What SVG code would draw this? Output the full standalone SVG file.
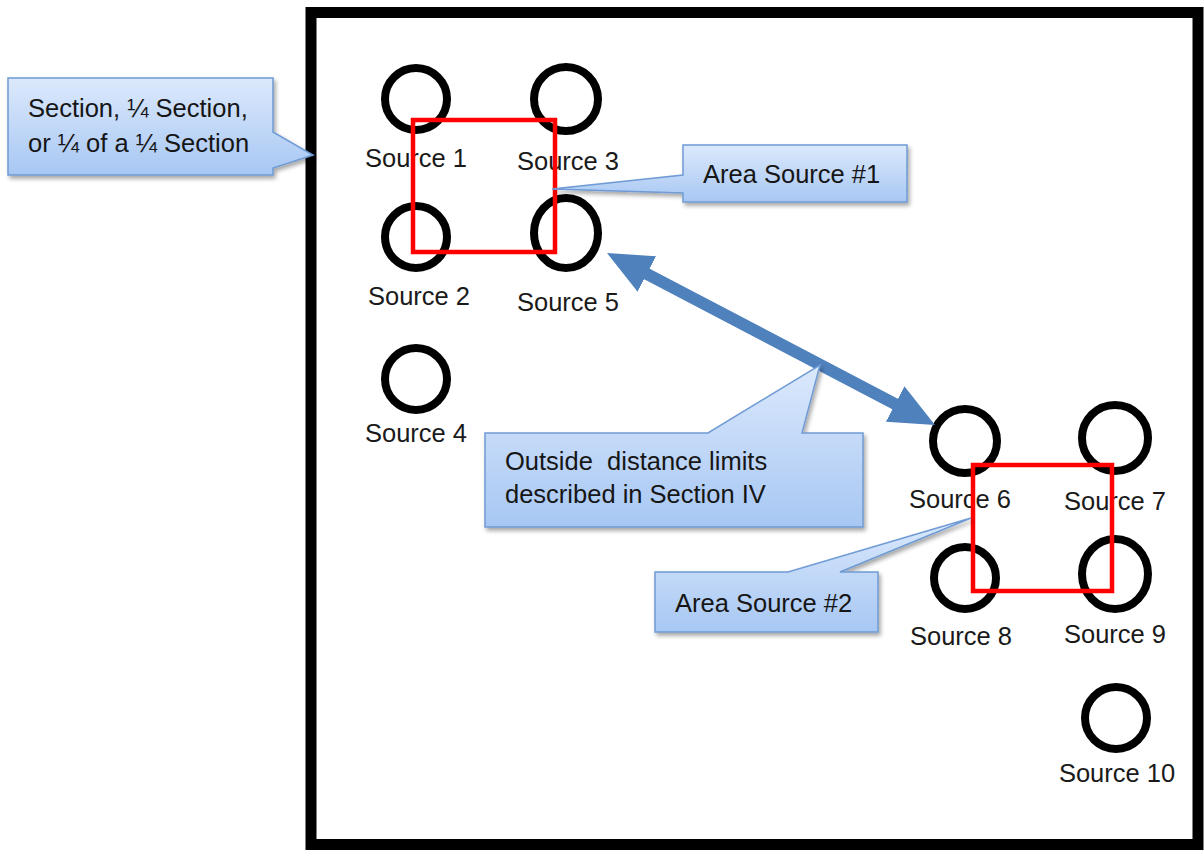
<svg xmlns="http://www.w3.org/2000/svg" width="1204" height="850" viewBox="0 0 1204 850">
<style>
.lbl{font-family:"Liberation Sans",Arial,sans-serif;font-size:25.5px;fill:#1a1a1a;text-anchor:middle}
.ctx{font-family:"Liberation Sans",Arial,sans-serif;font-size:25.5px;fill:#161616;white-space:pre}
.src{fill:none;stroke:#000;stroke-width:8}
.area{fill:none;stroke:#ff0000;stroke-width:4.5}
.call{fill:url(#cg);stroke:#6f9bd4;stroke-width:1.5;filter:url(#sh)}
</style>
<defs>
<linearGradient id="cg" x1="0" y1="0" x2="0" y2="1">
<stop offset="0" stop-color="#dce9fc"/>
<stop offset="1" stop-color="#a7c7f3"/>
</linearGradient>
<filter id="sh" x="-10%" y="-10%" width="130%" height="140%">
<feDropShadow dx="2" dy="3" stdDeviation="2" flood-color="#000" flood-opacity="0.35"/>
</filter>
<marker id="ah" markerUnits="userSpaceOnUse" viewBox="0 0 45 40" refX="15" refY="20" markerWidth="45" markerHeight="40" orient="auto-start-reverse">
<path d="M0,0 L45,20 L0,40 z" fill="#4f81bd"/>
</marker>
</defs>
<rect x="0" y="0" width="1204" height="850" fill="#fff"/>
<g id="frame">
<rect x="311" y="12.5" width="887" height="832" fill="none" stroke="#000" stroke-width="11"/>
</g>
<g id="source1"><circle class="src" cx="416" cy="99" r="31"/><text class="lbl" x="416" y="167">Source 1</text></g>
<g id="source3"><circle class="src" cx="566" cy="99" r="32"/><text class="lbl" x="568" y="170">Source 3</text></g>
<g id="source2"><circle class="src" cx="416" cy="237" r="31"/><text class="lbl" x="419" y="305">Source 2</text></g>
<g id="source5"><ellipse class="src" cx="566" cy="233" rx="32" ry="35"/><text class="lbl" x="568" y="311">Source 5</text></g>
<g id="source4"><circle class="src" cx="416" cy="379" r="31"/><text class="lbl" x="416" y="442">Source 4</text></g>
<g id="source6"><circle class="src" cx="965" cy="441" r="32"/><text class="lbl" x="960" y="508">Source 6</text></g>
<g id="source7"><circle class="src" cx="1115" cy="438" r="33"/><text class="lbl" x="1115" y="510">Source 7</text></g>
<g id="source8"><circle class="src" cx="965" cy="578" r="31"/><text class="lbl" x="961" y="645">Source 8</text></g>
<g id="source9"><ellipse class="src" cx="1115" cy="574" rx="33" ry="35"/><text class="lbl" x="1115" y="643">Source 9</text></g>
<g id="source10"><circle class="src" cx="1116" cy="718" r="31"/><text class="lbl" x="1117" y="782">Source 10</text></g>
<g id="area1"><rect class="area" x="413" y="120" width="142" height="132"/></g>
<g id="area2"><rect class="area" x="973" y="465" width="139" height="126"/></g>
<g id="connectors">
<line x1="633.6" y1="267" x2="908.4" y2="411" stroke="#4f81bd" stroke-width="12" marker-start="url(#ah)" marker-end="url(#ah)"/>
</g>
<g id="callout-section">
<path class="call" d="M8,78 H273 V132 L313,155 L273,168 V175 H8 Z"/>
<text class="ctx" x="28" y="117">Section, ¼ Section,</text>
<text class="ctx" x="28" y="152">or ¼ of a ¼ Section</text>
</g>
<g id="callout-area1">
<path class="call" d="M683,145 H907 V202 H683 V193 L552,189 L683,175 Z"/>
<text class="ctx" x="703" y="183">Area Source #1</text>
</g>
<g id="callout-outside">
<path class="call" d="M485,433 H708 L820,365 L802,433 H863 V527 H485 Z"/>
<text class="ctx" x="505" y="470">Outside  distance limits</text>
<text class="ctx" x="505" y="503">described in Section IV</text>
</g>
<g id="callout-area2">
<path class="call" d="M655,572 H788 L971,518 L840,572 H878 V632 H655 Z"/>
<text class="ctx" x="675" y="612">Area Source #2</text>
</g>
</svg>
